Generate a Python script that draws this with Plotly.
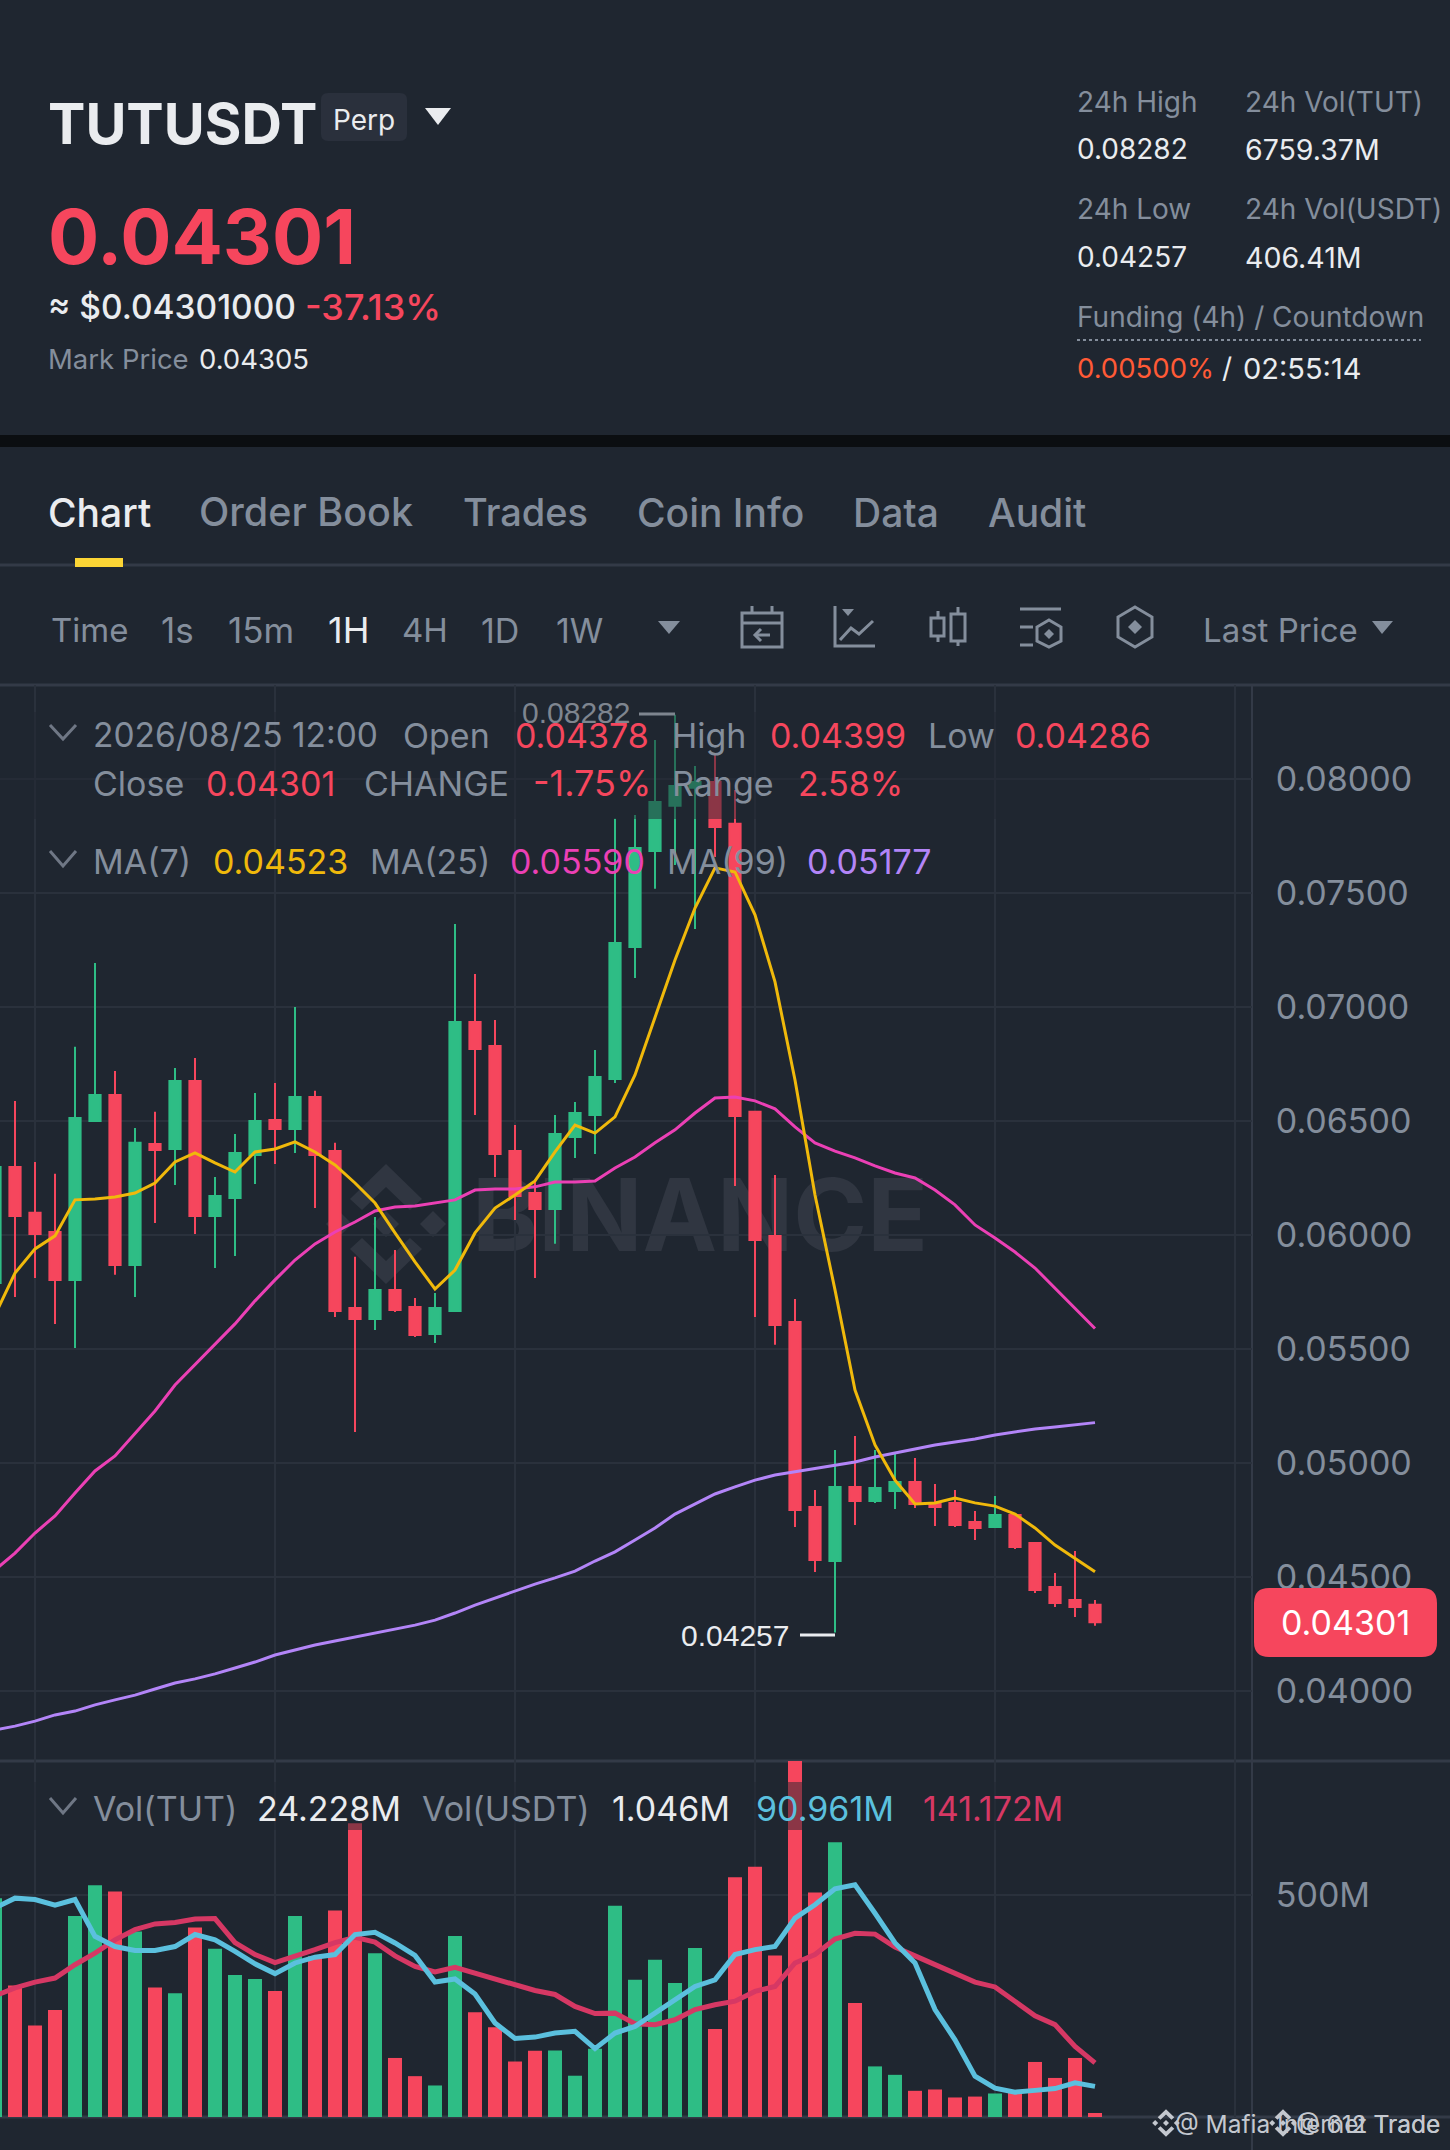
import plotly.graph_objects as go

W = 1450
H = 2150

BG = '#1F2630'
RED = '#F6465D'
GREEN = '#2EBD85'
GRAY = '#848E9C'
WHITE = '#EAECEF'
GRID = '#2A313C'
DIVIDER = '#333A47'
FONT = 'Inter'

candle_ids = list(range(56))

opens = [0.05789, 0.06298, 0.06097, 0.06013, 0.05803, 0.06500, 0.06614, 0.05868, 0.06399, 0.06377,
         0.06675, 0.06083, 0.06162, 0.06351, 0.06504, 0.06465, 0.06605, 0.06368, 0.05680, 0.05632,
         0.05759, 0.05684, 0.05566, 0.05667, 0.06934, 0.06829, 0.06368, 0.06184, 0.06114, 0.06430,
         0.06526, 0.06684, 0.07263, 0.07684, 0.07882, 0.07961, 0.07987, 0.07803, 0.06540, 0.05995,
         0.05618, 0.04807, 0.04570, 0.04895, 0.04833, 0.04877, 0.04917, 0.04820, 0.04825, 0.04741,
         0.04719, 0.04772, 0.04649, 0.04456, 0.04399, 0.04378]
highs = [0.06298, 0.06588, 0.06320, 0.06268, 0.06825, 0.07193, 0.06719, 0.06469, 0.06540, 0.06732,
         0.06776, 0.06254, 0.06443, 0.06623, 0.06667, 0.07000, 0.06632, 0.06404, 0.05904, 0.06079,
         0.05934, 0.05724, 0.05746, 0.07364, 0.07145, 0.06943, 0.06482, 0.06241, 0.06526, 0.06583,
         0.06811, 0.07825, 0.07842, 0.08171, 0.08282, 0.08057, 0.08110, 0.07952, 0.06540, 0.06263,
         0.05719, 0.04882, 0.05057, 0.05118, 0.05057, 0.05048, 0.05022, 0.04908, 0.04882, 0.04789,
         0.04855, 0.04772, 0.04649, 0.04518, 0.04614, 0.04399]
lows = [0.05789, 0.05728, 0.05811, 0.05610, 0.05504, 0.06496, 0.05825, 0.05728, 0.06053, 0.06219,
        0.06004, 0.05855, 0.05908, 0.06224, 0.06311, 0.06360, 0.06118, 0.05640, 0.05136, 0.05583,
        0.05662, 0.05553, 0.05526, 0.05667, 0.06526, 0.06254, 0.06066, 0.05811, 0.05961, 0.06338,
        0.06355, 0.06667, 0.07127, 0.07518, 0.07623, 0.07342, 0.07658, 0.06215, 0.05640, 0.05518,
        0.04719, 0.04522, 0.04257, 0.04728, 0.04825, 0.04798, 0.04803, 0.04724, 0.04719, 0.04662,
        0.04719, 0.04623, 0.04430, 0.04368, 0.04325, 0.04286]
closes = [0.06298, 0.06083, 0.06004, 0.05803, 0.06513, 0.06614, 0.05868, 0.06404, 0.06373, 0.06675,
          0.06083, 0.06171, 0.06360, 0.06500, 0.06465, 0.06605, 0.06351, 0.05667, 0.05632, 0.05759,
          0.05671, 0.05561, 0.05680, 0.06934, 0.06816, 0.06355, 0.06171, 0.06114, 0.06443, 0.06535,
          0.06693, 0.07281, 0.07697, 0.07899, 0.07969, 0.07987, 0.07789, 0.06522, 0.05978, 0.05605,
          0.04794, 0.04575, 0.04895, 0.04833, 0.04890, 0.04917, 0.04820, 0.04807, 0.04728, 0.04715,
          0.04772, 0.04632, 0.04443, 0.04386, 0.04368, 0.04301]

ma7 = [0.05649, 0.05833, 0.05939, 0.05996, 0.06154, 0.06158, 0.06167, 0.06184, 0.06228, 0.06320,
       0.06360, 0.06316, 0.06276, 0.06364, 0.06377, 0.06408, 0.06364, 0.06307, 0.06228, 0.06140,
       0.06009, 0.05882, 0.05763, 0.05846, 0.06009, 0.06118, 0.06175, 0.06237, 0.06364, 0.06482,
       0.06447, 0.06518, 0.06702, 0.06956, 0.07206, 0.07434, 0.07610, 0.07592, 0.07404, 0.07110,
       0.06680, 0.06175, 0.05759, 0.05320, 0.05079, 0.04925, 0.04820, 0.04825, 0.04846, 0.04825,
       0.04811, 0.04776, 0.04715, 0.04640, 0.04583, 0.04523]
ma25 = [0.04531, 0.04605, 0.04693, 0.04768, 0.04868, 0.04965, 0.05031, 0.05132, 0.05228, 0.05342,
        0.05430, 0.05518, 0.05610, 0.05711, 0.05803, 0.05890, 0.05961, 0.06013, 0.06057, 0.06105,
        0.06123, 0.06127, 0.06140, 0.06154, 0.06197, 0.06202, 0.06202, 0.06211, 0.06232, 0.06232,
        0.06237, 0.06294, 0.06342, 0.06404, 0.06461, 0.06535, 0.06601, 0.06605, 0.06588, 0.06553,
        0.06474, 0.06404, 0.06368, 0.06338, 0.06303, 0.06272, 0.06250, 0.06197, 0.06132, 0.06044,
        0.05987, 0.05925, 0.05855, 0.05768, 0.05680, 0.05590]
ma99 = [0.03829, 0.03846, 0.03868, 0.03895, 0.03912, 0.03939, 0.03961, 0.03982, 0.04009, 0.04035,
        0.04053, 0.04075, 0.04101, 0.04127, 0.04158, 0.04180, 0.04202, 0.04219, 0.04237, 0.04254,
        0.04272, 0.04289, 0.04311, 0.04342, 0.04377, 0.04408, 0.04439, 0.04469, 0.04496, 0.04526,
        0.04570, 0.04610, 0.04662, 0.04715, 0.04776, 0.04820, 0.04864, 0.04895, 0.04925, 0.04947,
        0.04961, 0.04978, 0.04991, 0.05004, 0.05026, 0.05044, 0.05061, 0.05079, 0.05092, 0.05105,
        0.05123, 0.05136, 0.05149, 0.05158, 0.05167, 0.05177]

volumes = [493, 296, 206, 241, 453, 522, 508, 418, 292, 279,
           427, 379, 320, 311, 284, 453, 362, 465, 662, 369,
           133, 92, 71, 408, 236, 202, 125, 149, 150, 93,
           154, 476, 309, 354, 302, 381, 198, 540, 564, 364,
           807, 506, 619, 257, 114, 95, 59, 62, 44, 46,
           53, 58, 124, 88, 133, 9]
vol_ma_fast = [471, 493, 490, 477, 490, 407, 384, 375, 375, 384,
               411, 399, 373, 345, 323, 347, 360, 366, 411, 416,
               392, 364, 304, 311, 277, 212, 177, 180, 189, 193,
               154, 189, 204, 234, 261, 294, 309, 366, 377, 384,
               448, 478, 514, 523, 459, 392, 347, 242, 174, 92,
               65, 56, 60, 64, 77, 69]
vol_ma_slow = [273, 291, 304, 313, 343, 369, 399, 422, 435, 438,
               446, 447, 393, 366, 348, 362, 377, 393, 405, 394,
               363, 339, 327, 337, 324, 313, 298, 285, 276, 249,
               233, 234, 210, 208, 219, 242, 253, 261, 283, 294,
               347, 366, 401, 414, 412, 383, 363, 343, 326, 304,
               293, 261, 228, 208, 159, 122]

price_ticks = [0.04, 0.045, 0.05, 0.055, 0.06, 0.065, 0.07, 0.075, 0.08]
grid_candles = [2, 14, 26, 38, 50, 62]

vol_colors = [GREEN if c >= o else RED for o, c in zip(opens, closes)]


def X(v):
    return v / W


def Y(v):
    return 1 - v / H


def poly(pts, close=True):
    d = 'M' + ' L'.join(f'{X(a):.5f},{Y(b):.5f}' for a, b in pts)
    return d + ' Z' if close else d


shapes = []
annotations = []


def add_path(pts, fill=None, line=None, width=0, close=True, layer='above'):
    s = dict(type='path', path=poly(pts, close), xref='paper', yref='paper', layer=layer,
             line=dict(color=line if line else 'rgba(0,0,0,0)', width=width))
    if fill:
        s['fillcolor'] = fill
    shapes.append(s)


def add_line(x0, y0, x1, y1, color=DIVIDER, width=2, dash=None, layer='above'):
    shapes.append(dict(type='line', xref='paper', yref='paper', x0=X(x0), x1=X(x1), y0=Y(y0), y1=Y(y1),
                       layer=layer, line=dict(color=color, width=width, dash=dash)))


def add_rect(x0, y0, x1, y1, color, opacity=1, layer='above'):
    shapes.append(dict(type='rect', xref='paper', yref='paper', x0=X(x0), x1=X(x1), y0=Y(y0), y1=Y(y1),
                       layer=layer, fillcolor=color, opacity=opacity, line=dict(width=0)))


def label(x, y, text, size, color=GRAY, anchor='left', weight=400, family=FONT):
    annotations.append(dict(x=X(x), y=Y(y), xref='paper', yref='paper', text=text, showarrow=False,
                            xanchor=anchor, yanchor='middle', borderpad=0, borderwidth=0,
                            font=dict(size=size, color=color, family=family, weight=weight)))


def chevron(x0, x1, y0, y1):
    add_path([(x0, y0), ((x0 + x1) / 2, y1), (x1, y0)], line='#6F7785', width=3, close=False)


def rounded(x0, y0, x1, y1, r, color, layer='above'):
    d = (f'M{X(x0 + r):.5f},{Y(y0):.5f} L{X(x1 - r):.5f},{Y(y0):.5f} '
         f'Q{X(x1):.5f},{Y(y0):.5f} {X(x1):.5f},{Y(y0 + r):.5f} L{X(x1):.5f},{Y(y1 - r):.5f} '
         f'Q{X(x1):.5f},{Y(y1):.5f} {X(x1 - r):.5f},{Y(y1):.5f} L{X(x0 + r):.5f},{Y(y1):.5f} '
         f'Q{X(x0):.5f},{Y(y1):.5f} {X(x0):.5f},{Y(y1 - r):.5f} L{X(x0):.5f},{Y(y0 + r):.5f} '
         f'Q{X(x0):.5f},{Y(y0):.5f} {X(x0 + r):.5f},{Y(y0):.5f} Z')
    shapes.append(dict(type='path', path=d, xref='paper', yref='paper', layer=layer, fillcolor=color,
                       line=dict(width=0)))


def binance_logo(cx, cy, s, color, layer='above'):
    def at(a, b):
        return (cx + a * s, cy + b * s)
    add_path([at(0, -60), at(36, -25), at(24, -14), at(0, -37), at(-24, -14), at(-36, -25)], fill=color, layer=layer)
    add_path([at(0, 60), at(36, 25), at(24, 14), at(0, 37), at(-24, 14), at(-36, 25)], fill=color, layer=layer)
    add_path([at(0, -13), at(13, 0), at(0, 13), at(-13, 0)], fill=color, layer=layer)
    add_path([at(-47, -13), at(-34, 0), at(-47, 13), at(-60, 0)], fill=color, layer=layer)
    add_path([at(47, -13), at(60, 0), at(47, 13), at(34, 0)], fill=color, layer=layer)


# page furniture
add_rect(0, 435, W, 447, '#0B0E11', layer='below')
add_line(0, 565, W, 565, width=3, layer='below')
add_rect(75, 558, 123, 567, '#FCD535')
add_line(0, 685, W, 685, width=3, layer='below')
add_line(0, 1761, W, 1761, width=3, layer='below')
add_line(0, 2117, W, 2117, width=3, layer='below')
add_line(1252, 685, 1252, H, width=2, layer='below')
binance_logo(386, 1224, 1, '#303641', layer='below')

# header left
label(48, 124, 'TUTUSDT', 56, WHITE, weight=700)
rounded(321, 93, 407, 141, 7, '#2A303C')
label(364, 120, 'Perp', 28, WHITE, anchor='center')
add_path([(425, 108), (451, 108), (438, 125)], fill=WHITE)
label(48, 236, '0.04301', 76, RED, weight=700)
label(48, 307, '≈ $0.04301000', 33.5, WHITE, weight=500)
label(305, 307, '-37.13%', 36, RED, weight=500)
label(48, 359, 'Mark Price', 27.5, GRAY)
label(199, 359, '0.04305', 27.5, WHITE)

# header right
label(1077, 102, '24h High', 28)
label(1245, 102, '24h Vol(TUT)', 28)
label(1077, 149, '0.08282', 28, WHITE)
label(1245, 149, '6759.37M', 28.5, WHITE)
label(1077, 209, '24h Low', 28)
label(1245, 209, '24h Vol(USDT)', 28)
label(1077, 257, '0.04257', 28, WHITE)
label(1245, 257, '406.41M', 28.5, WHITE)
label(1077, 317, 'Funding (4h) / Countdown', 28)
add_line(1077, 340, 1421, 340, color=GRAY, width=2, dash='dot')
label(1077, 368, '0.00500%', 27.5, '#FF5A36')
label(1222, 368, '/', 28, WHITE)
label(1243, 368, '02:55:14', 29, WHITE)

# tabs
label(48, 512, 'Chart', 39, WHITE, weight=500)
label(199, 512, 'Order Book', 39.5, GRAY, weight=500)
label(463, 512, 'Trades', 38, GRAY, weight=500)
label(637, 512, 'Coin Info', 39, GRAY, weight=500)
label(853, 512, 'Data', 39, GRAY, weight=500)
label(988, 512, 'Audit', 39, GRAY, weight=500)

# interval row
label(51, 630, 'Time', 33)
label(161, 630, '1s', 35)
label(228, 630, '15m', 35)
label(328, 630, '1H', 36, WHITE)
label(402, 630, '4H', 33)
label(481, 630, '1D', 34)
label(556, 630, '1W', 34)
add_path([(658, 621), (680, 621), (669, 634)], fill=GRAY)
label(1203, 630, 'Last Price', 33)
add_path([(1372, 621), (1393, 621), (1382, 634)], fill=GRAY)

# toolbar icons
add_path([(742, 613), (782, 613), (782, 647), (742, 647)], line=GRAY, width=3)
add_line(742, 623, 782, 623, color=GRAY, width=3)
add_line(752, 606, 752, 613, color=GRAY, width=3)
add_line(772, 606, 772, 613, color=GRAY, width=3)
add_path([(770, 635), (755, 635)], line=GRAY, width=3, close=False)
add_path([(761, 629), (755, 635), (761, 641)], line=GRAY, width=3, close=False)
add_path([(835, 606), (835, 646), (875, 646)], line=GRAY, width=3, close=False)
add_path([(842, 609), (854, 609), (848, 616)], fill=GRAY)
add_path([(840, 640), (851, 628), (859, 634), (873, 621)], line=GRAY, width=3, close=False)
add_path([(931, 618), (944, 618), (944, 636), (931, 636)], line=GRAY, width=3)
add_line(938, 611, 938, 618, color=GRAY, width=3)
add_line(938, 636, 938, 642, color=GRAY, width=3)
add_path([(951, 614), (965, 614), (965, 641), (951, 641)], line=GRAY, width=3)
add_line(958, 607, 958, 614, color=GRAY, width=3)
add_line(958, 641, 958, 646, color=GRAY, width=3)
add_line(1020, 609, 1061, 609, color=GRAY, width=3)
add_line(1020, 627, 1033, 627, color=GRAY, width=3)
add_line(1020, 645, 1033, 645, color=GRAY, width=3)
add_path([(1049, 620), (1061, 627), (1061, 641), (1049, 647), (1037, 641), (1037, 627)], line=GRAY, width=3)
add_path([(1049, 629), (1054, 634), (1049, 639), (1044, 634)], fill=GRAY)
add_path([(1135, 607), (1152, 617), (1152, 637), (1135, 647), (1118, 637), (1118, 617)], line=GRAY, width=3)
add_path([(1135, 620), (1142, 627), (1135, 634), (1128, 627)], fill=GRAY)

# dim band behind the legend rows
add_rect(0, 712, 1150, 819, BG, opacity=0.5)
add_rect(0, 1782, 1150, 1830, BG, opacity=0.5)

# legend rows
chevron(50, 76, 725, 739)
label(93, 735, '2026/08/25 12:00', 33.5)
label(403, 735, 'Open', 34)
label(515, 735, '0.04378', 34, RED)
label(672, 735, 'High', 34)
label(770, 735, '0.04399', 34, RED)
label(928, 735, 'Low', 34)
label(1015, 735, '0.04286', 34, RED)
label(93, 783, 'Close', 34)
label(206, 783, '0.04301', 34, RED)
label(364, 783, 'CHANGE', 34)
label(533, 783, '-1.75%', 36, RED)
label(672, 783, 'Range', 34)
label(798, 783, '2.58%', 34, RED)
chevron(50, 76, 851, 866)
label(93, 861, 'MA(7)', 34)
label(213, 861, '0.04523', 34, '#F0B90B')
label(370, 861, 'MA(25)', 34)
label(510, 861, '0.05590', 34, '#EB40B5')
label(667, 861, 'MA(99)', 34)
label(807, 861, '0.05177', 34, '#B385F8')
chevron(50, 76, 1798, 1813)
label(93, 1808, 'Vol(TUT)', 34)
label(257, 1808, '24.228M', 34, WHITE)
label(422, 1808, 'Vol(USDT)', 34)
label(612, 1808, '1.046M', 34, WHITE)
label(756, 1808, '90.961M', 34, '#5BC0DE')
label(923, 1808, '141.172M', 34, '#D63864')

# high / low callouts
label(522, 712, '0.08282', 30, '#7E858F', family='Liberation Sans')
add_line(639, 714, 675, 714, color='#7E858F', width=3)
label(681, 1635, '0.04257', 30, WHITE, family='Liberation Sans')
add_line(800, 1635, 835, 1635, color=WHITE, width=3)

# last price tag
rounded(1254, 1588, 1437, 1657, 15, RED)
label(1345, 1622, '0.04301', 34, '#FFFFFF', anchor='center')

# footer watermarks
binance_logo(1166, 2123, 0.23, '#C4C8CF')
label(1440, 2124, '@ Mafia Internet Trade', 24.5, '#C4C8CF', anchor='right')
binance_logo(1283, 2123, 0.23, '#C4C8CF')
label(1440, 2124, '@ 612 Trade', 24.5, '#C4C8CF', anchor='right')

fig = go.Figure()

# big watermark sits in its own subplot so the candles draw on top of it
fig.add_trace(go.Scatter(x=[700], y=[1226], mode='text', text=['BINANCE'], textposition='middle center',
                         textfont=dict(size=100, color='#303641', family=FONT, weight=700),
                         hoverinfo='skip', showlegend=False))

fig.add_trace(go.Candlestick(x=candle_ids, open=opens, high=highs, low=lows, close=closes,
                             increasing=dict(line=dict(color=GREEN, width=2), fillcolor=GREEN),
                             decreasing=dict(line=dict(color=RED, width=2), fillcolor=RED),
                             whiskerwidth=0, hoverinfo='skip', showlegend=False, xaxis='x2', yaxis='y2'))
for series, color in [(ma99, '#B385F8'), (ma25, '#EB40B5'), (ma7, '#F0B90B')]:
    fig.add_trace(go.Scatter(x=candle_ids, y=series, mode='lines', line=dict(color=color, width=3),
                             hoverinfo='skip', showlegend=False, xaxis='x2', yaxis='y2'))

fig.add_trace(go.Bar(x=candle_ids, y=volumes, marker=dict(color=vol_colors, line=dict(width=0)), width=0.7,
                     hoverinfo='skip', showlegend=False, cliponaxis=False, xaxis='x3', yaxis='y3'))
fig.add_trace(go.Scatter(x=candle_ids, y=vol_ma_slow, mode='lines', line=dict(color='#D63864', width=5),
                         hoverinfo='skip', showlegend=False, xaxis='x3', yaxis='y3'))
fig.add_trace(go.Scatter(x=candle_ids, y=vol_ma_fast, mode='lines', line=dict(color='#5BC0DE', width=5),
                         hoverinfo='skip', showlegend=False, xaxis='x3', yaxis='y3'))

chart_right = 1252 / W
x_range = [0.25, 62.85]
grid_x = dict(domain=[0, chart_right], range=x_range, tickmode='array', tickvals=grid_candles, showgrid=True,
              gridcolor=GRID, gridwidth=2, showticklabels=False, ticks='', zeroline=False, showline=False,
              fixedrange=True, rangeslider=dict(visible=False))

fig.update_layout(
    width=W, height=H, autosize=False,
    margin=dict(l=0, r=0, t=0, b=0, pad=0),
    paper_bgcolor=BG, plot_bgcolor='rgba(0,0,0,0)',
    showlegend=False, boxgap=0.2, bargap=0.3,
    hovermode=False,
    font=dict(family=FONT),
    xaxis=dict(domain=[0, 1], range=[0, W], visible=False, fixedrange=True),
    yaxis=dict(domain=[0, 1], range=[H, 0], visible=False, fixedrange=True),
    xaxis2=dict(anchor='y2', **grid_x),
    xaxis3=dict(anchor='y3', **grid_x),
    yaxis2=dict(anchor='x2', side='right', domain=[Y(1761), Y(685)], range=[0.03693, 0.08412],
                tickmode='array', tickvals=price_ticks, tickformat='.5f', showgrid=True, gridcolor=GRID,
                gridwidth=2, zeroline=False, showline=False, ticks='outside', ticklen=16,
                tickcolor='rgba(0,0,0,0)', tickfont=dict(size=34, color=GRAY, family=FONT), fixedrange=True),
    yaxis3=dict(anchor='x3', side='right', domain=[Y(2117), Y(1761)], range=[0, 802],
                tickmode='array', tickvals=[500], ticktext=['500M'], showgrid=True, gridcolor=GRID,
                gridwidth=2, zeroline=False, showline=False, ticks='outside', ticklen=16,
                tickcolor='rgba(0,0,0,0)', tickfont=dict(size=34, color=GRAY, family=FONT), fixedrange=True),
    shapes=shapes,
    annotations=annotations,
)

fig.write_html("out.html", config={'displayModeBar': False},
               post_script="document.body.style.margin='0';document.body.style.background='#1F2630';")
